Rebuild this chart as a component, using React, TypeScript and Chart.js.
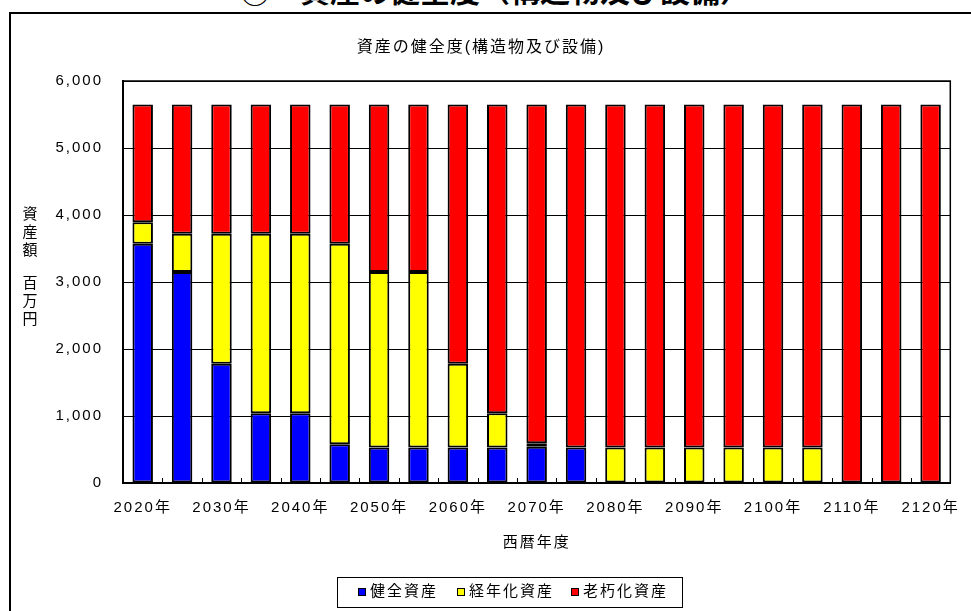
import React, { useEffect, useRef } from 'react';
import { Chart, registerables } from 'chart.js';

Chart.register(...registerables);

// ---- data ----
const years = [2020, 2025, 2030, 2035, 2040, 2045, 2050, 2055, 2060, 2065, 2070, 2075, 2080, 2085, 2090, 2095, 2100, 2105, 2110, 2115, 2120];
const categories = years.map((y) => `${y}年`);
const healthy = [3570, 3150, 1780, 1040, 1040, 580, 530, 530, 530, 530, 540, 530, 0, 0, 0, 0, 0, 0, 0, 0, 0];
const aging = [320, 570, 1940, 2680, 2680, 2990, 2620, 2620, 1250, 510, 55, 0, 530, 530, 530, 530, 530, 530, 0, 0, 0];
const deteriorated = [1760, 1930, 1930, 1930, 1930, 2080, 2500, 2500, 3870, 4610, 5055, 5120, 5120, 5120, 5120, 5120, 5120, 5120, 5650, 5650, 5650];
const seriesNames = ['健全資産', '経年化資産', '老朽化資産'];
const seriesColors = ['#0000FF', '#FFFF00', '#FF0000'];
const yMax = 6000;
const yStep = 1000;
const chartTitle = '資産の健全度(構造物及び設備)';
const pageTitle = '②　資産の健全度（構造物及び設備）';
const xTitle = '西暦年度';
const yTitleChars = ['資', '産', '額', '', '百', '万', '円'];

const FONT = '"Liberation Sans", "Noto Sans CJK JP", sans-serif';

const toNull = (arr: number[]) => arr.map((v) => (v === 0 ? null : v));

const decorPlugin = {
  id: 'decor',
  beforeDraw(chart: any) {
    try { chart.ctx.letterSpacing = '2px'; } catch (e) {}
  },
  afterDraw(chart: any) {
    const ctx = chart.ctx;
    const area = chart.chartArea;
    const xs = chart.scales.x;
    ctx.save();
    // frame top/right
    ctx.strokeStyle = '#000';
    ctx.lineWidth = 1.5;
    ctx.beginPath();
    ctx.moveTo(area.left, area.top);
    ctx.lineTo(area.right, area.top);
    ctx.lineTo(area.right, area.bottom);
    ctx.stroke();
    // inward tick marks on x axis at category boundaries
    ctx.lineWidth = 1;
    const n = categories.length;
    const w = (area.right - area.left) / n;
    for (let i = 1; i < n; i++) {
      const x = Math.round(xs.getPixelForValue(i) - w / 2) + 0.5;
      ctx.beginPath();
      ctx.moveTo(x, area.bottom);
      ctx.lineTo(x, area.bottom - 5);
      ctx.stroke();
    }
    // y title stacked vertically
    ctx.fillStyle = '#000';
    ctx.font = `15px ${FONT}`;
    try { ctx.letterSpacing = '0px'; } catch (e) {}
    ctx.textAlign = 'center';
    ctx.textBaseline = 'middle';
    let y = area.top + 134;
    for (const c of yTitleChars) {
      if (c === '') { y += 15; continue; }
      ctx.fillText(c, 30, y);
      y += 18;
    }
    // legend
    const lx = 337, ly = 577, lw = 345, lh = 30;
    ctx.lineWidth = 1;
    ctx.strokeStyle = '#000';
    ctx.strokeRect(lx + 0.5, ly + 0.5, lw, lh);
    const itemX = [358, 457, 571];
    ctx.font = `15px ${FONT}`;
    try { ctx.letterSpacing = '2px'; } catch (e) {}
    ctx.textAlign = 'left';
    ctx.textBaseline = 'middle';
    const cy = ly + lh / 2;
    seriesNames.forEach((name, i) => {
      ctx.fillStyle = seriesColors[i];
      ctx.fillRect(itemX[i], cy - 4, 8, 8);
      ctx.strokeStyle = '#000';
      ctx.strokeRect(itemX[i] + 0.5, cy - 4 + 0.5, 7, 7);
      ctx.fillStyle = '#000';
      ctx.fillText(name, itemX[i] + 12, cy);
    });
    ctx.restore();
  },
};

export default function App() {
  const ref = useRef<HTMLCanvasElement>(null);
  useEffect(() => {
    if (!ref.current) return;
    const chart = new Chart(ref.current, {
      type: 'bar',
      data: {
        labels: categories,
        datasets: [
          { label: seriesNames[0], data: toNull(healthy), backgroundColor: seriesColors[0] },
          { label: seriesNames[1], data: toNull(aging), backgroundColor: seriesColors[1] },
          { label: seriesNames[2], data: toNull(deteriorated), backgroundColor: seriesColors[2] },
        ].map((d) => ({
          ...d,
          borderColor: '#000',
          borderWidth: 2,
          borderSkipped: false,
          barPercentage: 0.52,
          categoryPercentage: 1,
        })) as any,
      },
      options: {
        responsive: false,
        animation: false,
        layout: { padding: { left: 0, right: 9, top: 0, bottom: 0 } },
        plugins: {
          legend: { display: false },
          tooltip: { enabled: false },
          title: {
            display: true,
            text: chartTitle,
            color: '#000',
            font: { family: FONT, size: 16, weight: 'normal' },
            padding: { top: 38.4, bottom: 23.4 },
          },
        },
        scales: {
          x: {
            stacked: true,
            grid: { display: false, drawTicks: false },
            border: { display: true, color: '#000', width: 2 },
            ticks: {
              autoSkip: false,
              maxRotation: 0,
              color: '#000',
              font: { family: FONT, size: 15 },
              padding: 16,
              callback: (_v: any, i: number) => (i % 2 === 0 ? categories[i] : ''),
            },
            title: {
              display: true,
              text: xTitle,
              color: '#000',
              font: { family: FONT, size: 15 },
              padding: { top: 0, bottom: 59.6 },
            },
            afterFit: (s: any) => { s.height = 128; },
          },
          y: {
            stacked: true,
            min: 0,
            max: yMax,
            grid: { color: '#000', lineWidth: 1, drawTicks: false },
            border: { display: true, color: '#000', width: 2 },
            ticks: {
              stepSize: yStep,
              color: '#000',
              padding: 20,
              font: { family: FONT, size: 15 },
              callback: (v: any) => Number(v).toLocaleString('en-US'),
            },
            afterFit: (s: any) => { s.width = 123; },
          },
        },
      },
      plugins: [decorPlugin],
    });
    return () => chart.destroy();
  }, []);

  return (
    <div style={{ position: 'absolute', left: 0, top: 0, width: 971, height: 611, overflow: 'hidden', background: '#fff' }}>
      <div
        style={{
          position: 'absolute',
          left: 240,
          top: -26,
          font: `bold 30px "Noto Sans CJK JP", sans-serif`,
          lineHeight: '30px',
          whiteSpace: 'nowrap',
          color: '#000',
        }}
      >
        {pageTitle}
      </div>
      <div
        style={{
          position: 'absolute',
          left: 9,
          top: 12,
          width: 1000,
          height: 700,
          border: '2px solid #000',
          boxSizing: 'border-box',
        }}
      />
      <canvas ref={ref} width={971} height={611} style={{ position: 'absolute', left: 0, top: 0, width: 971, height: 611 }} />
    </div>
  );
}
